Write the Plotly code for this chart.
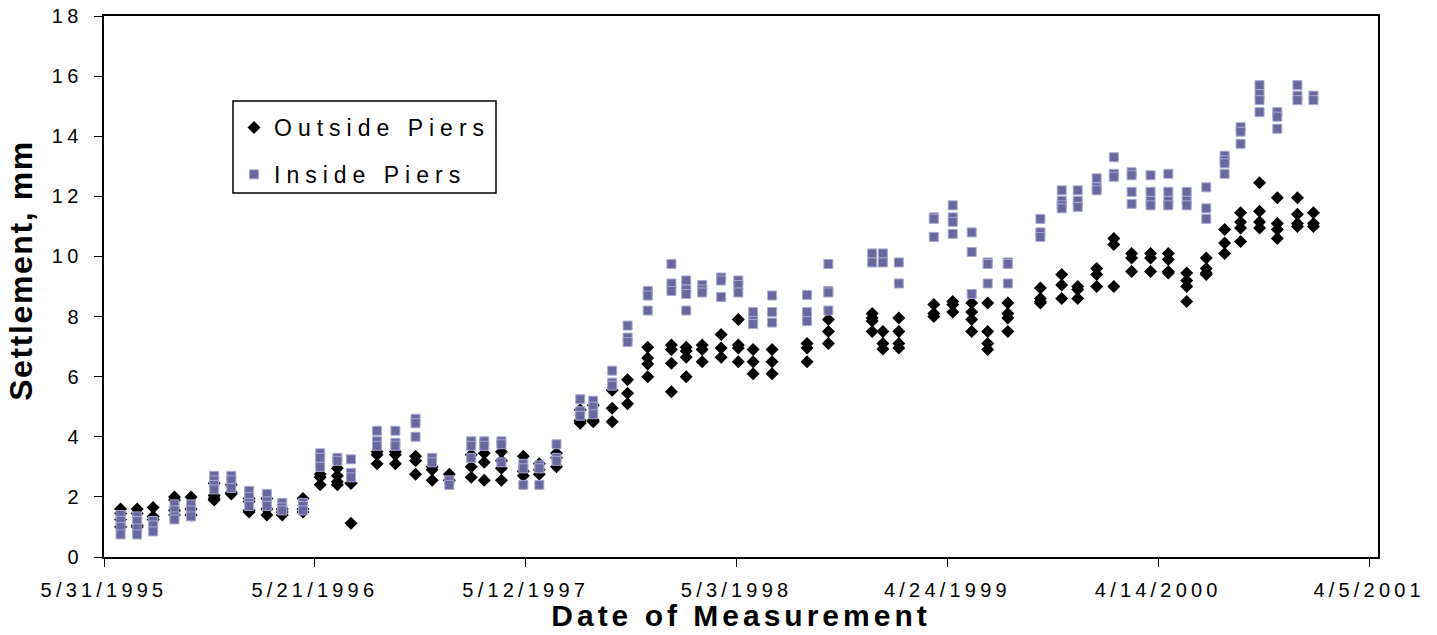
import plotly.graph_objects as go

# ---- data ----
dates = [
    "1995-06-28", "1995-07-26", "1995-08-22", "1995-09-27", "1995-10-25", "1995-12-03",
    "1996-01-01", "1996-01-31", "1996-03-01", "1996-03-27", "1996-05-01", "1996-05-30",
    "1996-06-28", "1996-07-21", "1996-09-03", "1996-10-04", "1996-11-07", "1996-12-05",
    "1997-01-03", "1997-02-09", "1997-03-03", "1997-04-01", "1997-05-08", "1997-06-04",
    "1997-07-03", "1997-08-12", "1997-09-03", "1997-10-05", "1997-10-31", "1997-12-04",
    "1998-01-13", "1998-02-07", "1998-03-06", "1998-04-07", "1998-05-06", "1998-05-31",
    "1998-07-02", "1998-08-30", "1998-10-05", "1998-12-18", "1999-01-05", "1999-02-01",
    "1999-04-01", "1999-05-03", "1999-06-04", "1999-07-01", "1999-08-04", "1999-09-28",
    "1999-11-03", "1999-11-30", "2000-01-01", "2000-01-30", "2000-02-29", "2000-04-01",
    "2000-05-01", "2000-06-01", "2000-07-04", "2000-08-04", "2000-08-31", "2000-10-02",
    "2000-11-01", "2000-12-05", "2001-01-01",
]

outside_piers = [
    [1.6, 1.45, 1.25, 1.0], [1.6, 1.45, 1.05, 1.0], [1.65, 1.35, 1.25], [2.0, 1.9, 1.55, 1.4],
    [2.0, 1.6, 1.4], [2.45, 2.05, 1.95, 1.9], [2.4, 2.15, 2.1], [1.95, 1.85, 1.55, 1.5],
    [1.95, 1.6, 1.4], [1.6, 1.5, 1.4], [1.95, 1.6, 1.5], [2.75, 2.65, 2.4],
    [2.95, 2.7, 2.5, 2.4], [2.45, 2.45, 1.12], [3.5, 3.4, 3.1], [3.5, 3.4, 3.1],
    [3.35, 3.2, 2.75], [3.0, 2.9, 2.55], [2.75, 2.55], [3.4, 3.0, 2.65],
    [3.45, 3.15, 2.55], [3.5, 3.2, 2.95, 2.55], [3.35, 2.85, 2.7], [3.1, 2.9, 2.75],
    [3.45, 3.3, 3.0], [4.9, 4.55, 4.5, 4.45], [5.05, 4.55, 4.5], [5.55, 4.95, 4.5],
    [5.9, 5.45, 5.1], [6.98, 6.62, 6.42, 6.0], [7.05, 6.9, 6.45, 5.5], [6.98, 6.85, 6.65, 6.0],
    [7.05, 6.9, 6.5], [7.4, 6.95, 6.65], [7.9, 7.05, 6.95, 6.5], [6.9, 6.5, 6.1],
    [6.9, 6.5, 6.1], [7.1, 6.95, 6.5], [7.9, 7.5, 7.1], [8.1, 7.95, 7.85, 7.5],
    [7.5, 7.1, 6.92], [7.95, 7.5, 7.1, 6.95], [8.4, 8.1, 8.0], [8.5, 8.4, 8.15],
    [8.45, 8.15, 7.9, 7.5], [8.45, 7.5, 7.1, 6.9], [8.45, 8.1, 7.95, 7.5], [8.95, 8.6, 8.5, 8.45],
    [9.4, 9.05, 8.6], [9.0, 8.9, 8.6], [9.6, 9.4, 9.0], [10.6, 10.4, 9.0],
    [10.1, 9.95, 9.5], [10.1, 9.95, 9.5], [10.1, 9.9, 9.5, 9.45], [9.45, 9.2, 9.0, 8.5],
    [9.95, 9.6, 9.45, 9.4], [10.9, 10.45, 10.1], [11.45, 11.15, 10.95, 10.5], [12.45, 11.5, 11.15, 10.95],
    [11.95, 11.1, 10.9, 10.6], [11.95, 11.4, 11.1, 11.0], [11.45, 11.1, 11.0],
]

inside_piers = [
    [1.4, 1.2, 1.0, 0.75], [1.35, 1.2, 0.95, 0.75], [1.2, 1.05, 0.85], [1.75, 1.55, 1.35, 1.25],
    [1.75, 1.55, 1.35], [2.7, 2.55, 2.4, 2.25], [2.7, 2.55, 2.3], [2.2, 2.0, 1.8, 1.7],
    [2.1, 1.85, 1.7], [1.8, 1.65, 1.55], [1.8, 1.7, 1.55], [3.45, 3.3, 3.0],
    [3.3, 3.2], [3.25, 2.8, 2.65], [4.2, 3.85, 3.7], [4.2, 3.8, 3.7],
    [4.6, 4.45, 4.0], [3.3, 3.15], [2.55, 2.4], [3.85, 3.7, 3.3],
    [3.85, 3.7], [3.85, 3.75, 3.15], [3.1, 2.95, 2.4], [3.05, 2.95, 2.4],
    [3.75, 3.3, 3.2], [5.25, 4.85, 4.7], [5.2, 5.0, 4.75], [6.2, 5.8, 5.7],
    [7.7, 7.3, 7.15], [8.85, 8.7, 8.2], [9.75, 9.1, 8.85], [9.2, 8.9, 8.75, 8.2],
    [9.05, 8.9, 8.8], [9.3, 9.2, 8.65], [9.2, 9.05, 8.8], [8.15, 7.85, 7.75],
    [8.7, 8.15, 7.8], [8.72, 8.15, 7.85], [9.75, 8.85, 8.8, 8.2], [10.1, 9.8],
    [10.1, 9.8], [9.8, 9.1], [11.3, 11.25, 10.65], [11.7, 11.3, 11.15, 10.75],
    [10.8, 10.15, 8.75], [9.8, 9.75, 9.1], [9.8, 9.75, 9.1], [11.25, 10.8, 10.65],
    [12.2, 11.85, 11.7, 11.6], [12.2, 11.85, 11.65], [12.6, 12.3, 12.2], [13.3, 12.75, 12.65],
    [12.8, 12.7, 12.15, 11.75], [12.7, 12.15, 11.85, 11.7], [12.75, 12.15, 11.85, 11.7], [12.15, 11.85, 11.7],
    [12.3, 11.6, 11.25], [13.35, 13.2, 13.1, 12.75], [14.3, 14.15, 13.75], [15.7, 15.4, 15.2, 14.8],
    [14.8, 14.65, 14.25], [15.7, 15.35, 15.2], [15.35, 15.2],
]

tick_dates = ["1995-05-31", "1996-05-21", "1997-05-12", "1998-05-03", "1999-04-24", "2000-04-14", "2001-04-05"]
tick_labels = ["5/31/1995", "5/21/1996", "5/12/1997", "5/3/1998", "4/24/1999", "4/14/2000", "4/5/2001"]
y_ticks = [0, 2, 4, 6, 8, 10, 12, 14, 16, 18]

series_names = ["Outside Piers", "Inside Piers"]
x_title = "Date of Measurement"
y_title = "Settlement, mm"


def flatten(groups):
    xs, ys = [], []
    for d, vals in zip(dates, groups):
        for v in vals:
            xs.append(d)
            ys.append(v)
    return xs, ys


xo, yo = flatten(outside_piers)
xi, yi = flatten(inside_piers)

FONT = "Liberation Sans, Arial, sans-serif"

fig = go.Figure()
fig.add_trace(go.Scatter(
    x=xo, y=yo, mode="markers", name=series_names[0], legendgroup="a",
    marker=dict(symbol="diamond", size=10, color="black", line=dict(width=0)),
))
fig.add_trace(go.Scatter(
    x=xi, y=yi, mode="markers", name=series_names[1], legendgroup="b",
    marker=dict(symbol="square", size=9, color="#68689e", line=dict(width=1, color="#a9a9d0")),
))

fig.update_layout(
    width=1437, height=635,
    margin=dict(l=104, r=59, t=16, b=78),
    paper_bgcolor="white", plot_bgcolor="white",
    font=dict(family=FONT, color="black"),
    showlegend=True,
    legend=dict(
        x=(234 - 104) / 1274, y=(557 - 106) / 541, xanchor="left", yanchor="top",
        bgcolor="rgba(0,0,0,0)", borderwidth=0,
        font=dict(family=FONT, size=23, color="black"),
        traceorder="grouped", tracegroupgap=14,
    ),
    xaxis=dict(
        type="date", range=["1995-05-31", "2001-04-20"], automargin=False,
        tickmode="array", tickvals=tick_dates, ticktext=tick_labels,
        showgrid=False, zeroline=False,
        showline=True, linecolor="black", linewidth=2, mirror=True,
        ticks="outside", ticklen=8, tickwidth=1, tickcolor="black",
        tickfont=dict(family=FONT, size=20, color="black"),
        ticklabelstandoff=6,
        title=dict(text=x_title, font=dict(family=FONT, size=30, color="black", weight="bold"), standoff=0),
    ),
    yaxis=dict(
        range=[0, 18], tickmode="array", tickvals=y_ticks, automargin=False,
        showgrid=False, zeroline=False,
        showline=True, linecolor="black", linewidth=2, mirror=True,
        ticks="outside", ticklen=8, tickwidth=1, tickcolor="black",
        tickfont=dict(family=FONT, size=20, color="black"),
        ticklabelstandoff=7,
        title=dict(text=y_title, font=dict(family=FONT, size=32, color="black", weight="bold"), standoff=16),
    ),
    shapes=[dict(
        type="rect", xref="paper", yref="paper",
        x0=(233 - 104) / 1274, x1=(496 - 104) / 1274,
        y0=(557 - 193) / 541, y1=(557 - 101) / 541,
        line=dict(color="black", width=1.5), fillcolor="rgba(0,0,0,0)", layer="above",
    )],
)

post = """
document.body.style.margin='0';
document.body.style.overflow='hidden';
var gd = document.getElementById('{plot_id}');
function ls(sel, v){ gd.querySelectorAll(sel).forEach(function(t){ t.style.letterSpacing = v; }); }
ls('.xtick text', '4.2px');
ls('.ytick text', '4.5px');
ls('.g-xtitle text', '4px');
ls('.g-ytitle text', '1.6px');
ls('.legendtext', '6px');
gd.querySelectorAll('.legend [clip-path]').forEach(function(e){ e.removeAttribute('clip-path'); });
function shift(sel, dx, dy){
  var el = gd.querySelector(sel);
  if (el) el.setAttribute('transform', 'translate(' + dx + ',' + dy + ') ' + (el.getAttribute('transform') || ''));
}
shift('.g-xtitle', 0, -2);
shift('.g-ytitle', -3, -16);
"""

fig.write_html("out.html", post_script=post, config={"displayModeBar": False})
